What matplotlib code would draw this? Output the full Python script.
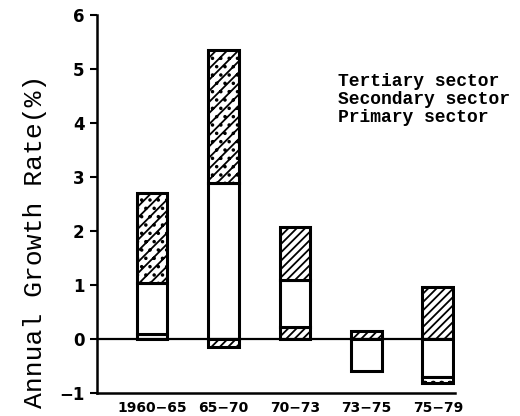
import matplotlib
matplotlib.use("Agg")
import matplotlib.pyplot as plt
import numpy as np

periods = ["1960\u221265", "65\u221270", "70\u221273", "73\u221275", "75\u221279"]
primary = [0.10, -0.14, 0.23, 0.0, -0.12]
secondary = [0.94, 2.88, 0.87, -0.60, -0.70]
tertiary = [1.66, 2.48, 0.97, 0.15, 0.97]
sectors = ["Tertiary sector", "Secondary sector", "Primary sector"]

# hatch per bar (scan textures vary from bar to bar)
HATCH = {
    "primary": ["..", "////", "////", "", "oo"],
    "secondary": ["", "", "", "", ""],
    "tertiary": ["///..", "///..", "////", "////", "////"],
}

plt.rcParams["hatch.linewidth"] = 1.3

fig = plt.figure(figsize=(5.2, 4.16), dpi=100)
ax = fig.add_axes([0.1865, 0.0553, 0.6885, 0.9087])

x = np.arange(len(periods))
width = 0.43
series = {"primary": np.array(primary), "secondary": np.array(secondary),
          "tertiary": np.array(tertiary)}

pos = np.zeros(len(x))
neg = np.zeros(len(x))
# positives stack up from zero: primary, secondary, tertiary
for name in ["primary", "secondary", "tertiary"]:
    vals = np.where(series[name] > 0, series[name], 0)
    bars = ax.bar(x, vals, width, bottom=pos, color="white",
                  edgecolor="black", linewidth=2.2, zorder=3)
    for b, h, v in zip(bars, HATCH[name], vals):
        b.set_hatch(h)
        if v == 0:
            b.set_visible(False)
    pos += vals
# negatives stack down from zero: secondary, primary
for name in ["secondary", "primary", "tertiary"]:
    vals = np.where(series[name] < 0, series[name], 0)
    bars = ax.bar(x, vals, width, bottom=neg, color="white",
                  edgecolor="black", linewidth=2.2, zorder=3)
    for b, h, v in zip(bars, HATCH[name], vals):
        b.set_hatch(h)
        if v == 0:
            b.set_visible(False)
    neg += vals

ax.axhline(0, color="black", linewidth=1.6, zorder=4)

ax.set_xlim(-0.77, 4.24)
ax.set_ylim(-1, 6)
ax.set_xticks(x)
ax.set_xticklabels(periods, fontsize=10, fontweight="bold")
ax.set_yticks(range(-1, 7))
ax.set_yticklabels([("\u2212" + str(-t)) if t < 0 else str(t) for t in range(-1, 7)],
                   fontsize=12, fontweight="bold")
ax.tick_params(axis="x", length=0, pad=6)
ax.tick_params(axis="y", direction="out", length=5, width=1.5, pad=4)
ax.spines["top"].set_visible(False)
ax.spines["right"].set_visible(False)
ax.spines["left"].set_linewidth(1.8)
ax.spines["bottom"].set_linewidth(1.8)

ax.set_ylabel("Annual Growth Rate(%)", family="Liberation Mono", fontsize=19)
ax.yaxis.set_label_coords(-0.14, 0.40)

for i, s in enumerate(sectors):
    fig.text(338 / 520, 1 - (82 + 18 * i) / 416, s, family="Liberation Mono",
             fontweight="bold", fontsize=13, va="center", ha="left")

fig.savefig("out.png", dpi=100)
